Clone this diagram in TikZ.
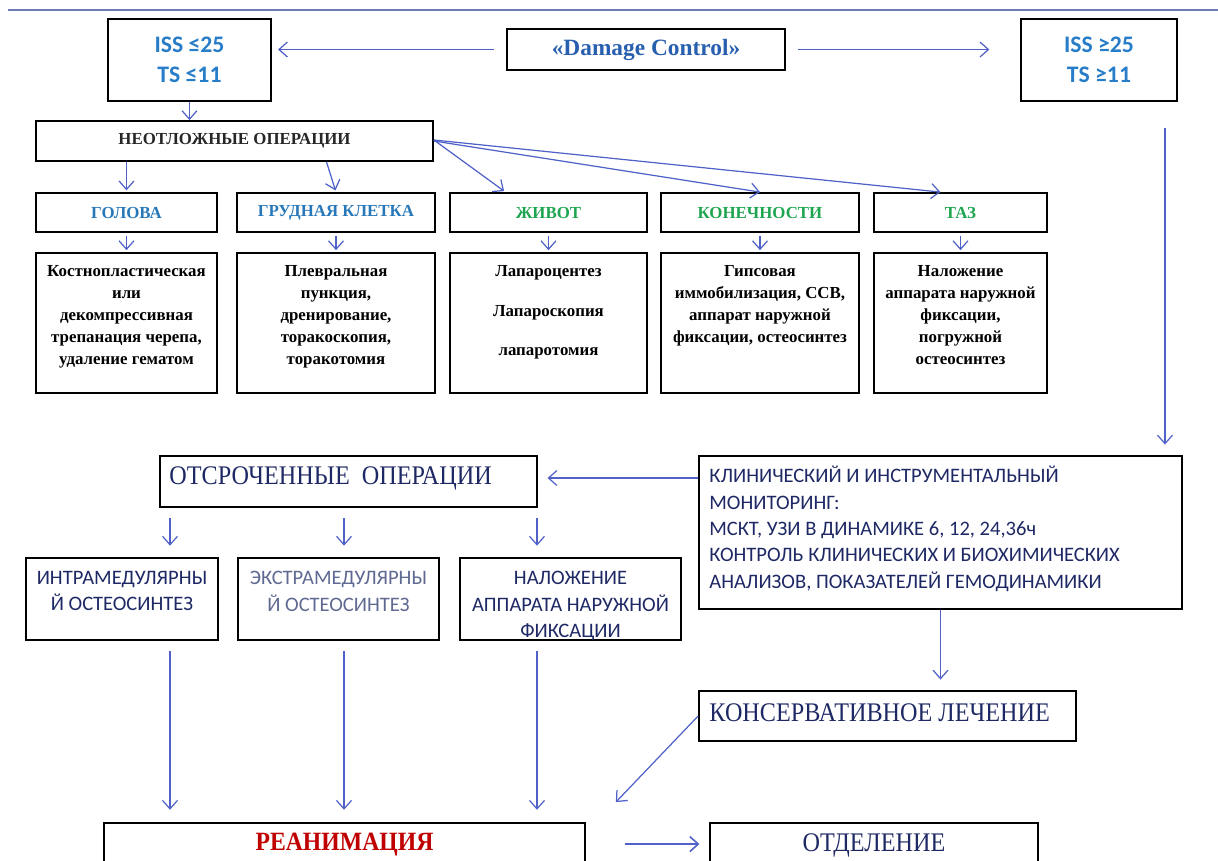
\documentclass[tikz,border=0pt]{standalone}
\usepackage{fontspec}
\setmainfont{Liberation Serif}
\newfontfamily\calib{Carlito}
\usepackage{graphicx}
\usetikzlibrary{calc,arrows.meta,positioning}

\definecolor{arrblue}{RGB}{80,98,200}
\definecolor{issblue}{RGB}{40,125,200}
\definecolor{dcblue}{RGB}{40,95,175}
\definecolor{catblue}{RGB}{40,120,185}
\definecolor{catgreen}{RGB}{30,165,80}
\definecolor{navy}{RGB}{30,40,100}
\definecolor{grayblue}{RGB}{95,105,145}
\definecolor{redtxt}{RGB}{192,0,0}
\definecolor{topline}{RGB}{110,125,180}

\newcommand{\narrowtxt}[1]{\scalebox{0.9}[1]{#1}}

\tikzset{
  box/.style={draw, line width=1.05pt, inner sep=0pt},
  arr/.style={draw=arrblue, line width=0.7pt, -{Straight Barb[length=4.8pt,width=8.5pt]}},
  cattext/.style={font=\bfseries\fontsize{9.6}{11}\selectfont},
  dettext/.style={font=\bfseries\fontsize{9.6}{12.5}\selectfont, align=center, anchor=north, inner sep=0pt},
  caltext/.style={font=\calib\fontsize{11.7}{15}\selectfont, text=navy, inner sep=0pt},
  bigtext/.style={font=\fontsize{15.3}{18}\selectfont, text=navy, inner sep=0pt}
}

\begin{document}
\begin{tikzpicture}[x=0.02cm, y=-0.02cm]
    \useasboundingbox (0,0) rectangle (1218,860);
    \draw[topline, line width=0.6pt] (8,10) -- (1218,10);

    \node[box, minimum width=3.26cm, minimum height=1.64cm, align=center,
      font=\calib\bfseries\fontsize{13.5}{17}\selectfont, text=issblue] (issA) at (189.5,60) {ISS ≤25\\TS ≤11};
    \node[box, minimum width=5.56cm, minimum height=0.82cm,
      font=\bfseries\fontsize{13.3}{15}\selectfont, text=dcblue] (dmg) at (646,49.5) {«Damage Control»};
    \node[box, minimum width=3.12cm, minimum height=1.64cm, align=center,
      font=\calib\bfseries\fontsize{13.5}{17}\selectfont, text=issblue] (issB) at (1099,60) {ISS ≥25\\TS ≥11};

    \draw[arr, shorten <=7pt, shorten >=3.5pt] (dmg.west) -- (dmg.west -| issA.east);
    \draw[arr, shorten <=7pt, shorten >=17.5pt] (dmg.east) -- (dmg.east -| issB.west);

    \node[box, minimum width=7.94cm, minimum height=0.8cm, cattext, text=black!85] (neotl) at (234.5,141) {НЕОТЛОЖНЫЕ ОПЕРАЦИИ};
    \draw[arr] (issA.south) -- (issA.south |- neotl.north);

    \foreach \n/\cx/\w/\c/\t in {golova/126.5/3.62/catblue/ГОЛОВА, grud/336/3.96/catblue/ГРУДНАЯ КЛЕТКА,
        zhivot/548.5/3.94/catgreen/ЖИВОТ, konech/760/3.96/catgreen/КОНЕЧНОСТИ, taz/960.5/3.46/catgreen/ТАЗ}{
      \node[box, minimum width=\w cm, minimum height=0.78cm, cattext, text=\c] (\n) at (\cx,212.5) {\t};
      \node[box, minimum width=\w cm, minimum height=2.8cm] (\n-d) at (\cx,323) {};
      \draw[arr, shorten <=1.7pt, shorten >=1.1pt] (\n.south) -- (\n-d.north);
    }

    \draw[arr, shorten >=1pt] (golova.north |- neotl.south) -- (golova.north);
    \draw[arr, shorten >=1pt] ($(neotl.south)+(92,0)$) -- (grud.north);
    \draw[arr, shorten >=1pt] ($(neotl.east)+(0,-1)$) -- ($(zhivot.north)+(-43,0)$);
    \draw[arr] (neotl.east) -- (konech.north);
    \draw[arr] ($(neotl.east)+(0,-1)$) -- ($(taz.north)+(-20,0)$);

    \node[dettext] (golova-x) at ($(golova-d.north)+(0,13)$) {Костнопластическая\\или\\декомпрессивная\\трепанация черепа,\\удаление гематом};
    \node[dettext] (grud-x) at ($(grud-d.north)+(0,13)$) {Плевральная\\пункция,\\дренирование,\\торакоскопия,\\торакотомия};
    \node[dettext] (zhivot-x) at ($(zhivot-d.north)+(0,13)$) {Лапароцентез\\[10pt]Лапароскопия\\[10pt]лапаротомия};
    \node[dettext] (konech-x) at ($(konech-d.north)+(0,13)$) {Гипсовая\\иммобилизация, ССВ,\\аппарат наружной\\фиксации, остеосинтез};
    \node[dettext] (taz-x) at ($(taz-d.north)+(0,13)$) {Наложение\\аппарата наружной\\фиксации,\\погружной\\остеосинтез};

    % monitoring branch
    \node[box, minimum width=9.66cm, minimum height=3.06cm] (klin) at (940.5,532.5) {};
    \node[caltext, align=left, anchor=north west] (klin-x) at (709,466) {КЛИНИЧЕСКИЙ И ИНСТРУМЕНТАЛЬНЫЙ\\МОНИТОРИНГ:\\МСКТ, УЗИ В ДИНАМИКЕ 6, 12, 24,36ч\\КОНТРОЛЬ КЛИНИЧЕСКИХ И БИОХИМИЧЕСКИХ\\АНАЛИЗОВ, ПОКАЗАТЕЛЕЙ ГЕМОДИНАМИКИ};
    \coordinate (monTop) at (1165,128);
    \draw[arr, shorten >=6pt] (monTop) -- (monTop |- klin.north);

    \node[box, minimum width=7.54cm, minimum height=1.02cm] (otsr) at (348.5,481.5) {};
    \node[bigtext, anchor=west] (otsr-x) at ($(otsr.west)+(10,-3)$) {\narrowtxt{ОТСРОЧЕННЫЕ\ \ ОПЕРАЦИИ}};
    \draw[arr, shorten >=5.5pt] ([yshift=2pt]otsr.east -| klin.west) -- ([yshift=2pt]otsr.east);

    \foreach \n/\cx/\w/\c/\t in {intra/122/3.84/navy/{ИНТРАМЕДУЛЯРНЫ\\Й ОСТЕОСИНТЕЗ},
        ekstra/338.5/4.02/grayblue/{ЭКСТРАМЕДУЛЯРНЫ\\Й ОСТЕОСИНТЕЗ},
        nalozh/570.5/4.42/navy/{НАЛОЖЕНИЕ\\АППАРАТА НАРУЖНОЙ\\ФИКСАЦИИ}}{
      \node[box, minimum width=\w cm, minimum height=1.64cm] (\n) at (\cx,599) {};
      \node[caltext, text=\c, align=center, anchor=north] (\n-x) at ($(\n.north)+(0,14)$) {\t};
    }

    \node[box, minimum width=7.54cm, minimum height=1.0cm] (konserv) at (887.5,716) {};
    \node[bigtext, anchor=west] (konserv-x) at ($(konserv.west)+(11,-3)$) {\narrowtxt{КОНСЕРВАТИВНОЕ ЛЕЧЕНИЕ}};
    \draw[arr, shorten >=6pt] (klin.south) -- (klin.south |- konserv.north);

    \node[box, minimum width=9.62cm, minimum height=1.34cm] (reanim) at (344.5,856.5) {};
    \node[bigtext, font=\bfseries\fontsize{15}{18}\selectfont, text=redtxt] (reanim-x) at (344.5,845) {\narrowtxt{РЕАНИМАЦИЯ}};
    \node[box, minimum width=6.56cm, minimum height=1.34cm] (otdel) at (874,856.5) {};
    \node[bigtext] (otdel-x) at (874,845) {\narrowtxt{ОТДЕЛЕНИЕ}};

    \coordinate (colA) at (170,0);
    \coordinate (colB) at (344,0);
    \coordinate (colC) at (537,0);
    \foreach \c/\b in {colA/intra, colB/ekstra, colC/nalozh}{
      \draw[arr, shorten <=6pt, shorten >=6.5pt] (otsr.south -| \c) -- (\b.north -| \c);
      \draw[arr, shorten <=6pt, shorten >=7pt] (\b.south -| \c) -- (reanim.north -| \c);
    }

    \draw[arr] (konserv.west) -- ($(reanim.north east)+(30,-20)$);
    \draw[arr, line width=0.9pt, shorten <=22pt, shorten >=5.5pt] ($(reanim.north east)+(0,22)$) -- ($(otdel.north west)+(0,22)$);
\end{tikzpicture}
\end{document}
